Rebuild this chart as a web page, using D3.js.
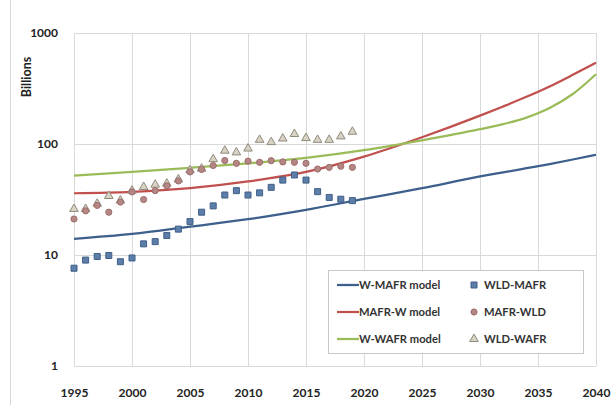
<!DOCTYPE html>
<html>
<head>
<meta charset="utf-8">
<script src="https://cdn.jsdelivr.net/npm/d3@7"></script>
<style>
  html, body { margin: 0; padding: 0; background: #fff; }
  svg { display: block; }
  text { font-family: Lato, "Liberation Sans", sans-serif; }
</style>
</head>
<body>
<svg id="chart" width="613" height="405"></svg>
<script>
// Observed years
const years = d3.range(1995, 2020);

// Observed series (billions)
const wldMafr = [7.6, 9.0, 9.7, 9.9, 8.7, 9.4, 12.6, 13.2, 15.0, 17.1, 20.0, 24.3, 27.7, 34.7, 38.0, 34.7, 36.3, 40.7, 47.3, 52.6, 47.3, 37.2, 33.0, 31.8, 30.9];
const mafrWld = [21.1, 25.0, 28.0, 24.3, 30.0, 37.0, 31.6, 38.0, 42.0, 46.5, 56.0, 59.0, 64.0, 71.0, 67.0, 70.0, 68.4, 70.7, 69.0, 68.4, 67.0, 59.5, 61.6, 63.0, 61.6];
const wldWafr = [26.0, 26.0, 29.0, 34.0, 31.0, 38.0, 41.0, 43.0, 44.0, 48.0, 58.0, 60.0, 73.0, 87.0, 84.0, 91.0, 109.0, 104.0, 112.0, 123.0, 113.0, 109.0, 109.0, 117.0, 129.0];

// Model projections
const modelYears = [1995, 2000, 2005, 2010, 2015, 2020, 2025, 2030, 2032, 2034, 2036, 2038, 2040];
const wMafrModel = [14.0, 15.5, 18.0, 21.0, 25.5, 32.0, 40.0, 51.0, 55.5, 60.5, 66.0, 72.5, 80.0];
const mafrWModel = [36.0, 37.0, 40.0, 46.0, 56.0, 77.0, 115.0, 180.0, 218.0, 266.0, 330.0, 420.0, 540.0];
const wWafrModel = [52.0, 56.0, 61.0, 67.0, 75.0, 88.0, 108.0, 136.0, 151.0, 173.0, 211.0, 282.0, 425.0];

// Axis ticks
const xTicks = [1995, 2000, 2005, 2010, 2015, 2020, 2025, 2030, 2035, 2040];
const yTicks = [1, 10, 100, 1000];

const svg = d3.select("#chart");
const plotL = 74, plotR = 596, plotT = 33, plotB = 366;

const x = d3.scaleLinear().domain([1995, 2040]).range([plotL, plotR]);
const y = d3.scaleLog().domain([1, 1000]).range([plotB, plotT]);

// chart frame
svg.append("line").attr("x1", 10.5).attr("x2", 10.5).attr("y1", 0).attr("y2", 405)
  .attr("stroke", "#d9d9d9");

// gridlines
const grid = svg.append("g").attr("stroke", "#d9d9d9").attr("stroke-width", 1);
grid.selectAll("line.v").data(xTicks).join("line").attr("class", "v")
  .attr("x1", d => Math.round(x(d)) + 0.5).attr("x2", d => Math.round(x(d)) + 0.5)
  .attr("y1", plotT).attr("y2", plotB);
grid.selectAll("line.h").data(yTicks).join("line").attr("class", "h")
  .attr("x1", plotL).attr("x2", plotR)
  .attr("y1", d => Math.round(y(d)) + 0.5).attr("y2", d => Math.round(y(d)) + 0.5);

// axes (labels only)
const xAxis = svg.append("g").attr("transform", `translate(0,${plotB})`)
  .call(d3.axisBottom(x).tickValues(xTicks).tickFormat(d3.format("d")).tickSize(0).tickPadding(22));
const yAxis = svg.append("g").attr("transform", `translate(${plotL},0)`)
  .call(d3.axisLeft(y).tickValues(yTicks).tickFormat(d3.format("d")).tickSize(0).tickPadding(16));
[xAxis, yAxis].forEach(a => {
  a.select(".domain").remove();
  a.selectAll("text").attr("font-family", "Lato, sans-serif").attr("font-weight", "bold")
    .attr("font-size", 12).attr("fill", "#222");
});

svg.append("text").attr("transform", "translate(31,77) rotate(-90)")
  .attr("text-anchor", "middle").attr("font-weight", "bold").attr("font-size", 12.5)
  .attr("fill", "#222").text("Billions");

// model lines
const models = [
  { values: wMafrModel, color: "#3c5f8c" },
  { values: mafrWModel, color: "#c0504d" },
  { values: wWafrModel, color: "#9bbb59" }
];
const line = d3.line().x(d => x(d[0])).y(d => y(d[1])).curve(d3.curveMonotoneX);
models.forEach(m => {
  svg.append("path").datum(modelYears.map((yr, i) => [yr, m.values[i]]))
    .attr("fill", "none").attr("stroke", m.color).attr("stroke-width", 2.25)
    .attr("d", line);
});

// observed markers
const sq = d3.symbol().type(d3.symbolSquare).size(36);
const ci = d3.symbol().type(d3.symbolCircle).size(30);
const tr = d3.symbol().type(d3.symbolTriangle).size(32);

svg.append("g").selectAll("path").data(years.map((yr, i) => [yr, wldWafr[i]])).join("path")
  .attr("transform", d => `translate(${x(d[0])},${y(d[1])})`)
  .attr("d", tr).attr("fill", "#d8d3c4").attr("stroke", "#8f8a7c").attr("stroke-width", 1);
svg.append("g").selectAll("path").data(years.map((yr, i) => [yr, mafrWld[i]])).join("path")
  .attr("transform", d => `translate(${x(d[0])},${y(d[1])})`)
  .attr("d", ci).attr("fill", "#b58784").attr("stroke", "#9c6e6c").attr("stroke-width", 1);
svg.append("g").selectAll("path").data(years.map((yr, i) => [yr, wldMafr[i]])).join("path")
  .attr("transform", d => `translate(${x(d[0])},${y(d[1])})`)
  .attr("d", sq).attr("fill", "#5d7ea8").attr("stroke", "#3f5f88").attr("stroke-width", 1);

// legend
const lg = svg.append("g");
lg.append("rect").attr("x", 328.5).attr("y", 270.5).attr("width", 255).attr("height", 83)
  .attr("fill", "#fff").attr("stroke", "#c8c8c8");
const lineItems = ["W-MAFR model", "MAFR-W model", "W-WAFR model"];
const markItems = ["WLD-MAFR", "MAFR-WLD", "WLD-WAFR"];
const rowY = [285, 312, 339];
lineItems.forEach((t, i) => {
  lg.append("line").attr("x1", 337).attr("x2", 359).attr("y1", rowY[i]).attr("y2", rowY[i])
    .attr("stroke", models[i].color).attr("stroke-width", 2.25);
  lg.append("text").attr("x", 359).attr("y", rowY[i] + 4).attr("font-size", 11.2)
    .attr("font-weight", "bold").attr("fill", "#333").text(t);
});
const markSyms = [
  { d: sq, fill: "#5d7ea8", stroke: "#3f5f88" },
  { d: ci, fill: "#b58784", stroke: "#9c6e6c" },
  { d: tr, fill: "#d8d3c4", stroke: "#8f8a7c" }
];
markItems.forEach((t, i) => {
  lg.append("path").attr("transform", `translate(474,${rowY[i]})`).attr("d", markSyms[i].d)
    .attr("fill", markSyms[i].fill).attr("stroke", markSyms[i].stroke);
  lg.append("text").attr("x", 484).attr("y", rowY[i] + 4).attr("font-size", 11.2)
    .attr("font-weight", "bold").attr("fill", "#333").text(t);
});
</script>
</body>
</html>
